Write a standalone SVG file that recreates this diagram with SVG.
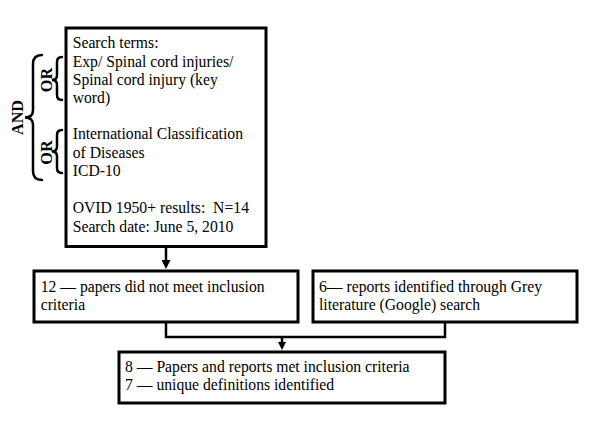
<svg xmlns="http://www.w3.org/2000/svg" width="600" height="429" viewBox="0 0 600 429">
<style>
  .box{fill:#fff;stroke:#000;stroke-width:3}
  .t{font-family:"Liberation Serif","Times New Roman",serif;font-size:15.7px;fill:#000}
  .b{font-family:"Liberation Serif","Times New Roman",serif;font-size:16.2px;font-weight:bold;fill:#000}
  .ln{fill:none;stroke:#000;stroke-width:2.5}
  .br{fill:none;stroke:#000;stroke-width:2.5;stroke-linecap:round}
</style>
<defs>
  <marker id="ah" viewBox="0 0 10 10" refX="0" refY="5" markerWidth="10" markerHeight="9" markerUnits="userSpaceOnUse" orient="auto">
    <path d="M0,0 L10,5 L0,10 Z" fill="#000"/>
  </marker>
  <marker id="ah2" viewBox="0 0 10 10" refX="0" refY="5" markerWidth="10" markerHeight="8" markerUnits="userSpaceOnUse" orient="auto">
    <path d="M0,0 L10,5 L0,10 Z" fill="#000"/>
  </marker>
</defs>
<rect width="600" height="429" fill="#fff"/>

<g id="connectors">
  <line class="ln" x1="166" y1="247" x2="166" y2="260" marker-end="url(#ah)"/>
  <polyline class="ln" points="166,322 166,337 445,337 445,322"/>
  <line class="ln" x1="282" y1="337" x2="282" y2="342" marker-end="url(#ah2)"/>
</g>

<g id="braces">
  <path class="br" d="M62,57 Q57,57 57,62 L57,75 Q57,80 52,80 Q57,80 57,85 L57,95 Q57,100 62,100"/>
  <text class="b" text-anchor="middle" transform="translate(52,80) rotate(-90)">OR</text>
  <path class="br" d="M62,130 Q57,130 57,135 L57,146.5 Q57,151.5 52,151.5 Q57,151.5 57,156.5 L57,168 Q57,173 62,173"/>
  <text class="b" text-anchor="middle" transform="translate(52,152.5) rotate(-90)">OR</text>
  <path class="br" d="M42,55 Q33,55 33,64 L33,110 Q33,117.5 25,117.5 Q33,117.5 33,125 L33,171 Q33,180 42,180"/>
  <text class="b" text-anchor="middle" transform="translate(23,117.5) rotate(-90)">AND</text>
</g>

<g id="search">
  <rect class="box" x="66" y="28" width="200" height="218.5"/>
  <text class="t" x="72.7" y="48.3">Search terms:</text>
  <text class="t" x="72.7" y="66.7">Exp/ Spinal cord injuries/</text>
  <text class="t" x="72.7" y="85.2">Spinal cord injury (key</text>
  <text class="t" x="72.7" y="103.4">word)</text>
  <text class="t" x="72.7" y="139.2">International Classification</text>
  <text class="t" x="72.7" y="157.6">of Diseases</text>
  <text class="t" x="72.7" y="176">ICD-10</text>
  <text class="t" x="72.7" y="213.3" xml:space="preserve" style="white-space:pre">OVID 1950+ results:  N=14</text>
  <text class="t" x="72.7" y="231.7">Search date: June 5, 2010</text>
</g>

<g id="excluded">
  <rect class="box" x="34" y="271" width="264" height="51"/>
  <text class="t" x="40.7" y="292">12 — papers did not meet inclusion</text>
  <text class="t" x="40.7" y="309.5">criteria</text>
</g>

<g id="grey">
  <rect class="box" x="313" y="271" width="264" height="51"/>
  <text class="t" x="319" y="292">6— reports identified through Grey</text>
  <text class="t" x="319" y="309.5">literature (Google) search</text>
</g>

<g id="included">
  <rect class="box" x="119" y="352" width="326" height="51"/>
  <text class="t" x="125" y="372">8 — Papers and reports met inclusion criteria</text>
  <text class="t" x="125" y="390">7 — unique definitions identified</text>
</g>
</svg>
